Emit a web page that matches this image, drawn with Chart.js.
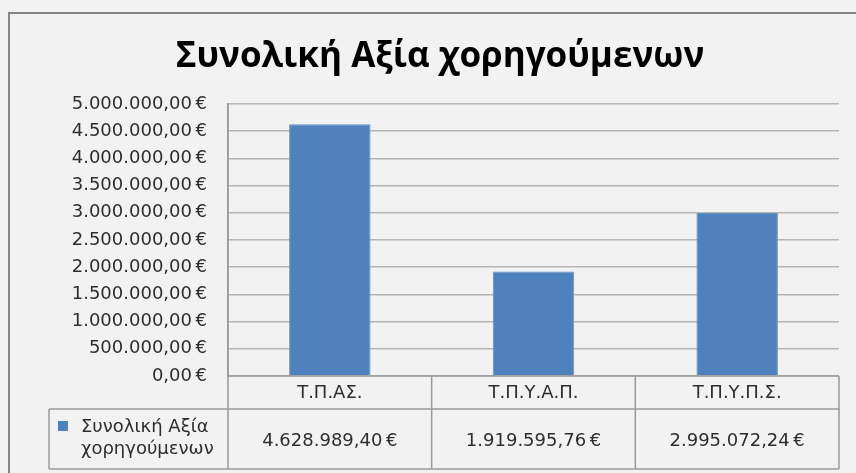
<!DOCTYPE html>
<html>
<head>
<meta charset="utf-8">
<script src="https://cdn.jsdelivr.net/npm/chart.js@4"></script>
<style>
    html, body { margin: 0; padding: 0; background: #f2f2f2; }
    #wrap { width: 856px; height: 473px; }
</style>
</head>
<body>
<div id="wrap"><canvas id="chart" width="856" height="473"></canvas></div>
<script>
const title = "Συνολική Αξία χορηγούμενων";
const seriesName = ["Συνολική Αξία", "χορηγούμενων"];
const categories = ["Τ.Π.ΑΣ.", "Τ.Π.Υ.Α.Π.", "Τ.Π.Υ.Π.Σ."];
const values = [4628989.40, 1919595.76, 2995072.24];
const yMax = 5000000;
const yStep = 500000;

const FONT = "'DejaVu Sans', sans-serif";
const TEXT = "#2e2e2e";
const LINE = "#9a9a9a";

// 1.234.567,89 €
function euro(v) {
    const parts = v.toFixed(2).split(".");
    const intPart = parts[0].replace(/\B(?=(\d{3})+(?!\d))/g, ".");
    return intPart + "," + parts[1] + "\u2009€";
}

// Title, outer frame and the data table under the x axis
const tablePlugin = {
    id: "tablePlugin",
    beforeDraw(chart) {
        const ctx = chart.ctx;
        ctx.save();
        ctx.strokeStyle = "#858585";
        ctx.lineWidth = 2;
        ctx.strokeRect(9, 13, 900, 500);
        ctx.fillStyle = "#000000";
        ctx.font = "bold 35px 'Open Sans', sans-serif";
        ctx.textAlign = "center";
        ctx.textBaseline = "alphabetic";
        ctx.fillText(title, 440, 67);
        ctx.restore();
    },
    afterDraw(chart) {
        const ctx = chart.ctx;
        const x = chart.scales.x;
        const area = chart.chartArea;
        const rowTop = area.bottom;
        const rowMid = rowTop + 33;
        const rowBottom = rowMid + 60;
        const legendLeft = 49;

        const bounds = [area.left];
        for (let i = 0; i < categories.length - 1; i++) {
            bounds.push((x.getPixelForTick(i) + x.getPixelForTick(i + 1)) / 2);
        }
        bounds.push(area.right);

        ctx.save();
        ctx.strokeStyle = LINE;
        ctx.lineWidth = 1.5;
        ctx.beginPath();
        ctx.moveTo(area.left, rowTop);
        ctx.lineTo(area.right, rowTop);
        ctx.moveTo(legendLeft, rowMid);
        ctx.lineTo(area.right, rowMid);
        ctx.moveTo(legendLeft, rowBottom);
        ctx.lineTo(area.right, rowBottom);
        ctx.moveTo(legendLeft, rowMid);
        ctx.lineTo(legendLeft, rowBottom);
        bounds.forEach((b, i) => {
            ctx.moveTo(b, i == 0 ? area.top : rowTop);
            ctx.lineTo(b, rowBottom);
        });
        ctx.stroke();

        // legend key
        ctx.fillStyle = "#4f81bd";
        ctx.fillRect(58, 421, 10, 10);

        ctx.fillStyle = TEXT;
        ctx.font = "18px " + FONT;
        ctx.textBaseline = "middle";
        ctx.textAlign = "left";
        ctx.fillText(seriesName[0], 81, 427);
        ctx.fillText(seriesName[1], 81, 449);

        ctx.textAlign = "center";
        values.forEach((v, i) => {
            ctx.fillText(euro(v), x.getPixelForTick(i), (rowMid + rowBottom) / 2 + 2);
        });
        ctx.restore();
    }
};

new Chart(document.getElementById("chart"), {
    type: "bar",
    data: {
        labels: categories,
        datasets: [{
            label: seriesName.join(" "),
            data: values,
            backgroundColor: "#4f81bd",
            borderColor: "#6690c6",
            borderWidth: 1,
            barPercentage: 0.8,
            categoryPercentage: 0.5
        }]
    },
    options: {
        responsive: false,
        animation: false,
        layout: {
            padding: { left: 0, top: 104, right: 17, bottom: 64 }
        },
        plugins: {
            legend: { display: false },
            title: { display: false },
            tooltip: { enabled: false }
        },
        scales: {
            x: {
                grid: { display: false, drawTicks: false },
                border: { display: false },
                ticks: {
                    color: TEXT,
                    font: { family: FONT, size: 18 },
                    padding: 7
                },
                afterFit: (scale) => { scale.height = 33; }
            },
            y: {
                min: 0,
                max: yMax,
                grid: { color: "#b5b5b5", lineWidth: 1.5, drawTicks: false },
                border: { display: true, color: LINE, width: 1.5 },
                ticks: {
                    stepSize: yStep,
                    color: TEXT,
                    font: { family: FONT, size: 18 },
                    padding: 21,
                    callback: (v) => euro(v)
                },
                afterFit: (scale) => { scale.width = 228; }
            }
        }
    },
    plugins: [tablePlugin]
});
</script>
</body>
</html>
